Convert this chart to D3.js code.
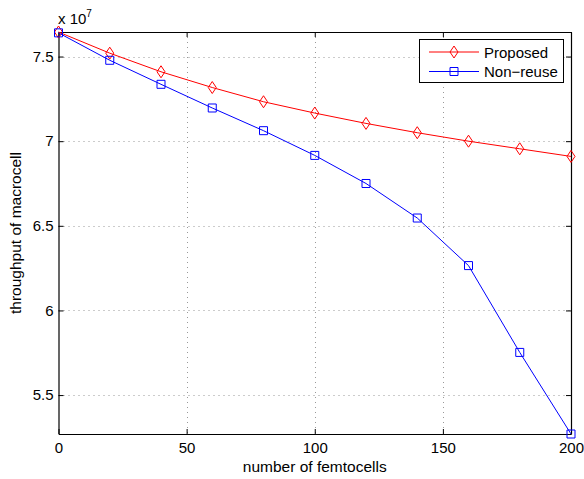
<!DOCTYPE html>
<html>
<head>
<meta charset="utf-8">
<script src="https://cdn.jsdelivr.net/npm/d3@7"></script>
<style>
  body { margin: 0; background: #fff; }
  text { font-family: "Liberation Sans", Arial, sans-serif; }
</style>
</head>
<body>
<svg width="584" height="479"></svg>
<script>
const femtocells = [0, 20, 40, 60, 80, 100, 120, 140, 160, 180, 200];
const proposed = [7.645, 7.52, 7.41, 7.317, 7.233, 7.166, 7.105, 7.05, 7.0, 6.955, 6.91];
const nonReuse = [7.64, 7.478, 7.336, 7.196, 7.062, 6.916, 6.75, 6.546, 6.265, 5.752, 5.27];
const xTicks = [0, 50, 100, 150, 200];
const yTicks = [5.5, 6, 6.5, 7, 7.5];
const seriesNames = ["Proposed", "Non\u2212reuse"];
const seriesColors = ["#ff0000", "#0000ff"];

const svg = d3.select("svg");
const plotLeft = 58.5, plotRight = 571, plotTop = 32, plotBottom = 434;

const xScale = d3.scaleLinear().domain([0, 200]).range([plotLeft, plotRight]);
const yScale = d3.scaleLinear()
    .domain(d3.extent(proposed.concat(nonReuse)))
    .range([plotBottom, plotTop]);

// grid
const grid = svg.append("g")
    .attr("stroke", "#999")
    .attr("stroke-width", 1)
    .attr("stroke-dasharray", "1,4");
xTicks.slice(1, -1).forEach(t => {
    grid.append("line")
        .attr("x1", Math.round(xScale(t)) + 0.5).attr("x2", Math.round(xScale(t)) + 0.5)
        .attr("y1", plotTop).attr("y2", plotBottom);
});
yTicks.forEach(t => {
    grid.append("line")
        .attr("x1", plotLeft).attr("x2", plotRight)
        .attr("y1", Math.round(yScale(t)) + 0.5).attr("y2", Math.round(yScale(t)) + 0.5);
});

// axes
const xAxis = d3.axisBottom(xScale).tickValues(xTicks).tickSizeInner(-5).tickSizeOuter(0).tickPadding(8);
const yAxis = d3.axisLeft(yScale).tickValues(yTicks).tickSizeInner(-5).tickSizeOuter(0).tickPadding(5)
    .tickFormat(d3.format("~g"));

const gx = svg.append("g").attr("transform", `translate(0,${plotBottom})`).call(xAxis);
const gy = svg.append("g").attr("transform", `translate(${plotLeft},0)`).call(yAxis);
const gxTop = svg.append("g").attr("transform", `translate(0,${plotTop})`)
    .call(d3.axisTop(xScale).tickValues(xTicks).tickSizeInner(-5).tickSizeOuter(0).tickFormat(""));
const gyRight = svg.append("g").attr("transform", `translate(${plotRight},0)`)
    .call(d3.axisRight(yScale).tickValues(yTicks).tickSizeInner(-5).tickSizeOuter(0).tickFormat(""));

[gx, gy, gxTop, gyRight].forEach(g => {
    g.select(".domain").attr("stroke", "#000").attr("stroke-width", 1.2);
    g.selectAll(".tick line").attr("stroke", "#000");
    g.selectAll(".tick text").attr("fill", "#000").style("font-size", "15px");
});

// series
const line = d3.line().x((d, i) => xScale(femtocells[i])).y(d => yScale(d));
const diamond = "M0,-6L4,0L0,6L-4,0Z";
const square = "M-4,-4H4V4H-4Z";

[proposed, nonReuse].forEach((vals, s) => {
    svg.append("path")
        .datum(vals)
        .attr("d", line)
        .attr("fill", "none")
        .attr("stroke", seriesColors[s])
        .attr("stroke-width", 1);
    svg.selectAll(null)
        .data(vals)
        .enter().append("path")
        .attr("d", s === 0 ? diamond : square)
        .attr("transform", (d, i) => `translate(${xScale(femtocells[i])},${yScale(d)})`)
        .attr("fill", "none")
        .attr("stroke", seriesColors[s])
        .attr("stroke-width", 1);
});

// exponent label
const expText = svg.append("text").attr("x", 58).attr("y", 24).style("font-size", "15px");
expText.append("tspan").text("x 10");
expText.append("tspan").attr("dy", -7).style("font-size", "10px").text("7");

// axis labels
svg.append("text")
    .attr("x", (plotLeft + plotRight) / 2).attr("y", 472)
    .attr("text-anchor", "middle").style("font-size", "15.5px")
    .text("number of femtocells");
svg.append("text")
    .attr("transform", `translate(21,${(plotTop + plotBottom) / 2}) rotate(-90)`)
    .attr("text-anchor", "middle").style("font-size", "15.5px")
    .text("throughput of macrocell");

// legend
const legend = svg.append("g");
legend.append("rect")
    .attr("x", 419.5).attr("y", 39.5).attr("width", 144).attr("height", 43)
    .attr("fill", "#fff").attr("stroke", "#000").attr("stroke-width", 1);
seriesNames.forEach((name, s) => {
    const yy = 52 + s * 19.5;
    legend.append("line")
        .attr("x1", 429).attr("x2", 479).attr("y1", yy).attr("y2", yy)
        .attr("stroke", seriesColors[s]);
    legend.append("path")
        .attr("d", s === 0 ? diamond : square)
        .attr("transform", `translate(454,${yy})`)
        .attr("fill", "none").attr("stroke", seriesColors[s]);
    legend.append("text")
        .attr("x", 484).attr("y", yy + 5.5)
        .style("font-size", "15px")
        .text(name);
});
</script>
</body>
</html>
